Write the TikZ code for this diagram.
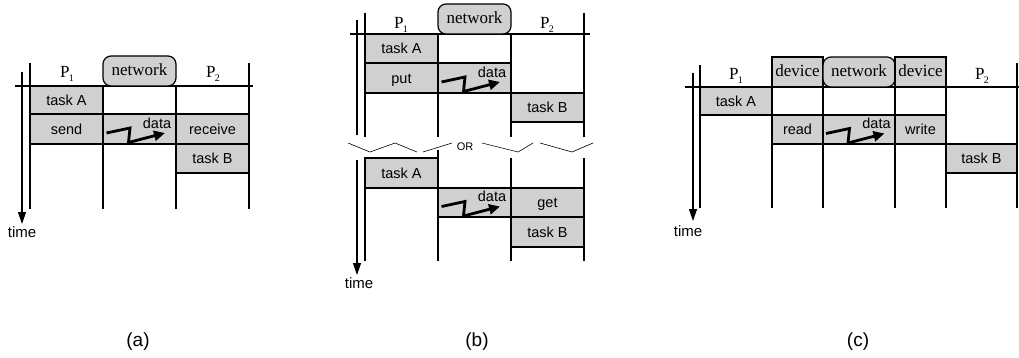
\documentclass[tikz,border=0pt]{standalone}
\usepackage{fontspec}
\setmainfont{Liberation Serif}
\newfontfamily\hel{Liberation Sans}
\usetikzlibrary{arrows.meta,calc}
\definecolor{boxgray}{RGB}{208,208,208}
\newcommand\procP[1]{P\kern-0.8pt\raisebox{-3.5pt}{\fontsize{10}{10}\selectfont #1}}
% [style]{name}{x1}{y1}{x2}{y2}{text}
\newcommand\boxnode[7][cell]{\node[#1, minimum width={#5-#3}, minimum height={#6-#4}] (#2) at ({(#3+#5)/2},{(#4+#6)/2}) {#7};}
\tikzset{
  ln/.style={line width=1.2pt},
  thinln/.style={line width=0.6pt},
  cell/.style={draw, fill=boxgray, line width=1.2pt, inner sep=0pt,
    font=\hel\fontsize{14.5}{14.5}\selectfont, text height=10.4pt, text depth=0pt},
  hdr/.style={draw, fill=boxgray, line width=1.2pt, inner sep=0pt,
    font=\fontsize{17}{17}\selectfont, text height=9pt, text depth=0pt},
  net/.style={hdr, rounded corners=8pt},
  plabel/.style={font=\fontsize{17}{17}\selectfont, inner sep=0pt, anchor=base},
  timelbl/.style={font=\hel\fontsize{15}{15}\selectfont, inner sep=0pt},
  datalbl/.style={font=\hel\fontsize{14.5}{14.5}\selectfont, inner sep=0pt},
  orlbl/.style={font=\hel\fontsize{11}{11}\selectfont, inner sep=0pt},
  panellbl/.style={font=\hel\fontsize{19}{19}\selectfont, inner sep=0pt},
  timearrow/.style={line width=1.2pt, -{Triangle[length=12pt,width=8pt]}},
  dataarrow/.style={line width=2.8pt, -{Triangle[length=11pt,width=10pt]}},
}
\begin{document}
\begin{tikzpicture}[x=1pt,y=-1pt]
\useasboundingbox (0,0) rectangle (1019,358);
% ---------------- panel (a)
\draw[ln] (30,63) -- (30,209);
\draw[ln] (103,86) -- (103,209);
\draw[ln] (176,86) -- (176,209);
\draw[ln] (249,63) -- (249,209);
\draw[ln] (15,86) -- (253,86);
\boxnode[net]{a-net}{103}{56}{176}{86}{network}
\node[plabel] (a-p1) at (67,78) {\procP{1}};
\node[plabel] (a-p2) at (213,78) {\procP{2}};
\boxnode{a-taskA}{30}{86}{103}{114}{task A}
\boxnode{a-send}{30}{114}{103}{144}{send}
\boxnode{a-data}{103}{114}{176}{144}{}
\boxnode{a-recv}{176}{114}{249}{144}{receive}
\boxnode{a-taskB}{176}{144}{249}{173}{task B}
\draw[dataarrow] ($(a-data.center)+(-33,4)$) -- ($(a-data.center)+(-9.5,-1)$)
  -- ($(a-data.center)+(-11,13.5)$) -- ($(a-data.center)+(25.5,4)$);
\node[datalbl] (a-dl) at ($(a-data.center)+(17.5,-6)$) {data};
\coordinate (a-t0) at (22,72);
\coordinate (a-t1) at (22,224);
\draw[timearrow] (a-t0) -- (a-t1);
\node[timelbl] (a-time) at (22,232) {time};
\node[panellbl] (a-lbl) at (138,342) {(a)};
% ---------------- panel (b)
\draw[ln] (365,13) -- (365,137);
\draw[ln] (438,34) -- (438,137);
\draw[ln] (511,34) -- (511,137);
\draw[ln] (584,13) -- (584,137);
\draw[ln] (350,34) -- (590,34);
\draw[ln] (357,20) -- (357,135);
\boxnode[net]{b-net}{438}{4}{511}{34}{network}
\node[plabel] (b-p1) at (401,29) {\procP{1}};
\node[plabel] (b-p2) at (547,29) {\procP{2}};
\boxnode{b-taskA}{365}{34}{438}{63}{task A}
\boxnode{b-put}{365}{63}{438}{93}{put}
\boxnode{b-data}{438}{63}{511}{93}{}
\boxnode{b-taskB}{511}{93}{584}{122}{task B}
\draw[dataarrow] ($(b-data.center)+(-33,4)$) -- ($(b-data.center)+(-9.5,-1)$)
  -- ($(b-data.center)+(-11,13.5)$) -- ($(b-data.center)+(25.5,4)$);
\node[datalbl] (b-dl) at ($(b-data.center)+(17.5,-6)$) {data};
% break
\draw[thinln] (348,143) -- (370,152) -- (395,143) -- (417,152);
\draw[thinln] (423,152) -- (452,143);
\node[orlbl] (b-or) at (465,147) {OR};
\draw[thinln] (482,143) -- (518,152) -- (533,143);
\draw[thinln] (540,143) -- (572,152) -- (593,143);
% lower
\draw[ln] (365,158) -- (365,261);
\draw[ln] (438,150) -- (438,261);
\draw[ln] (511,158) -- (511,261);
\draw[ln] (584,158) -- (584,261);
\boxnode{b-taskA2}{365}{158}{438}{188}{task A}
\boxnode{b-data2}{438}{188}{511}{217}{}
\boxnode{b-get}{511}{188}{584}{217}{get}
\boxnode{b-taskB2}{511}{217}{584}{247}{task B}
\draw[dataarrow] ($(b-data2.center)+(-33,4)$) -- ($(b-data2.center)+(-9.5,-1)$)
  -- ($(b-data2.center)+(-11,13.5)$) -- ($(b-data2.center)+(25.5,4)$);
\node[datalbl] (b-dl2) at ($(b-data2.center)+(17.5,-6)$) {data};
\coordinate (b-t0) at (357,160);
\coordinate (b-t1) at (357,275);
\draw[timearrow] (b-t0) -- (b-t1);
\node[timelbl] (b-time) at (359,283) {time};
\node[panellbl] (b-lbl) at (477,342) {(b)};
% ---------------- panel (c)
\draw[ln] (700,65) -- (700,208);
\draw[ln] (772,87) -- (772,208);
\draw[ln] (823,87) -- (823,208);
\draw[ln] (895,87) -- (895,208);
\draw[ln] (946,87) -- (946,208);
\draw[ln] (1017,63) -- (1017,208);
\draw[ln] (685,87) -- (1019,87);
\boxnode[hdr]{c-dev1}{772}{57}{823}{87}{device}
\boxnode[net]{c-net}{823}{57}{895}{87}{network}
\boxnode[hdr]{c-dev2}{895}{57}{946}{87}{device}
\node[plabel] (c-p1) at (736,80) {\procP{1}};
\node[plabel] (c-p2) at (982,80) {\procP{2}};
\boxnode{c-taskA}{700}{87}{772}{115}{task A}
\boxnode{c-read}{772}{115}{823}{144}{read}
\boxnode{c-data}{823}{115}{895}{144}{}
\boxnode{c-write}{895}{115}{946}{144}{write}
\boxnode{c-taskB}{946}{144}{1017}{173}{task B}
\draw[dataarrow] ($(c-data.center)+(-33,4)$) -- ($(c-data.center)+(-9.5,-1)$)
  -- ($(c-data.center)+(-11,13.5)$) -- ($(c-data.center)+(25.5,4)$);
\node[datalbl] (c-dl) at ($(c-data.center)+(17.5,-6)$) {data};
\coordinate (c-t0) at (693,73);
\coordinate (c-t1) at (693,221);
\draw[timearrow] (c-t0) -- (c-t1);
\node[timelbl] (c-time) at (688,231) {time};
\node[panellbl] (c-lbl) at (858,342) {(c)};
\end{tikzpicture}
\end{document}
